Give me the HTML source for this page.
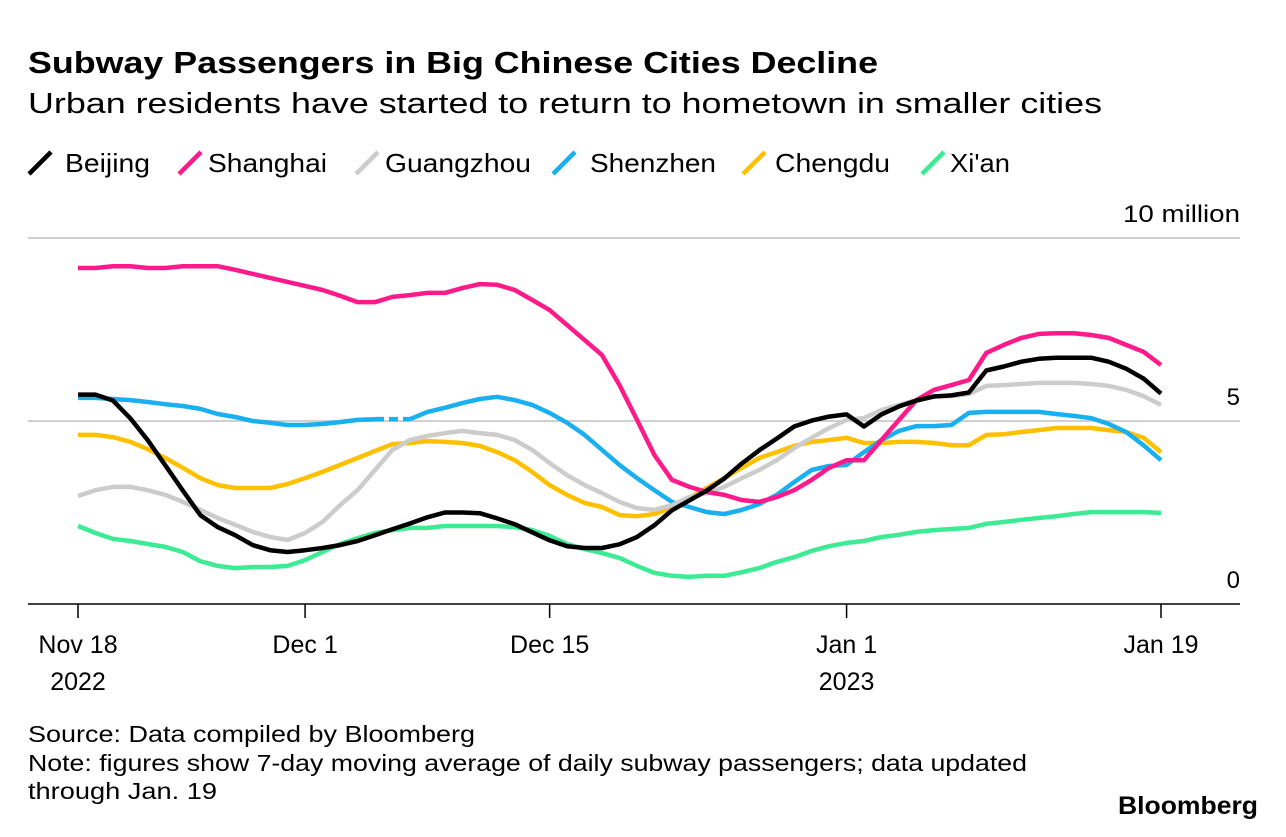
<!DOCTYPE html>
<html><head><meta charset="utf-8"><style>
body{margin:0;background:#fff;font-family:"Liberation Sans",Arial,sans-serif;}
svg text{font-family:"Liberation Sans",Arial,sans-serif;}
</style></head><body>
<svg width="1286" height="832" xmlns="http://www.w3.org/2000/svg">
<text x="28" y="73" font-size="31" font-weight="bold" fill="#000" textLength="850" lengthAdjust="spacingAndGlyphs">Subway Passengers in Big Chinese Cities Decline</text>
<text x="28" y="113" font-size="29" fill="#000" textLength="1074" lengthAdjust="spacingAndGlyphs">Urban residents have started to return to hometown in smaller cities</text>
<g id="legend"></g>
<g id="grid"></g>
<g id="xaxis"></g>
<g id="series"></g>
<text x="28" y="742" font-size="23" fill="#000" textLength="447" lengthAdjust="spacingAndGlyphs">Source: Data compiled by Bloomberg</text>
<text x="28" y="771" font-size="23" fill="#000" textLength="999" lengthAdjust="spacingAndGlyphs">Note: figures show 7-day moving average of daily subway passengers; data updated</text>
<text x="28" y="799" font-size="23" fill="#000" textLength="189" lengthAdjust="spacingAndGlyphs">through Jan. 19</text>
<text x="1258" y="814" font-size="25" font-weight="bold" text-anchor="end" fill="#000" textLength="140" lengthAdjust="spacingAndGlyphs">Bloomberg</text>
</svg>
<script>
const seriesNames=["Beijing","Shanghai","Guangzhou","Shenzhen","Chengdu","Xi'an"];
const seriesColors=["#000000","#ff1a8c","#cccccc","#1ab0f0","#ffc000","#3deb94"];
const yTicks=[0,5,10];
const yTickLabels=["0","5","10 million"];
const xTickDays=[0,13,27,44,62];
const xTickLabels=[["Nov 18","2022"],["Dec 1",""],["Dec 15",""],["Jan 1","2023"],["Jan 19",""]];
const beijing=[5.72,5.72,5.56,5.07,4.47,3.79,3.10,2.43,2.10,1.88,1.61,1.47,1.42,1.47,1.53,1.61,1.72,1.88,2.04,2.20,2.37,2.50,2.50,2.48,2.34,2.18,1.96,1.74,1.58,1.53,1.53,1.63,1.83,2.15,2.56,2.83,3.10,3.43,3.84,4.20,4.52,4.85,5.01,5.12,5.18,4.85,5.18,5.40,5.56,5.67,5.70,5.78,6.38,6.49,6.62,6.70,6.73,6.73,6.73,6.62,6.43,6.16,5.75];
const shanghai=[9.18,9.18,9.23,9.23,9.18,9.18,9.23,9.23,9.23,9.13,9.02,8.91,8.80,8.69,8.58,8.42,8.25,8.25,8.39,8.44,8.50,8.50,8.63,8.74,8.72,8.58,8.31,8.03,7.62,7.21,6.80,5.98,5.03,4.07,3.39,3.20,3.06,2.98,2.84,2.79,2.92,3.11,3.39,3.72,3.93,3.93,4.48,5.03,5.57,5.85,5.98,6.12,6.86,7.08,7.27,7.38,7.40,7.40,7.35,7.27,7.08,6.89,6.53];
const guangzhou=[2.95,3.11,3.20,3.20,3.11,2.98,2.79,2.57,2.35,2.16,1.97,1.83,1.75,1.94,2.24,2.70,3.11,3.66,4.21,4.48,4.59,4.67,4.73,4.67,4.62,4.48,4.21,3.85,3.52,3.25,3.03,2.79,2.62,2.57,2.70,2.92,3.03,3.20,3.44,3.66,3.93,4.26,4.54,4.81,5.03,5.08,5.30,5.44,5.57,5.68,5.68,5.74,5.96,5.98,6.01,6.04,6.04,6.04,6.01,5.96,5.85,5.68,5.44];
const shenzhen=[5.63,5.63,5.60,5.57,5.52,5.46,5.41,5.33,5.19,5.11,5.00,4.95,4.89,4.89,4.92,4.97,5.03,5.05,5.05,5.05,5.25,5.36,5.49,5.60,5.66,5.57,5.44,5.22,4.95,4.62,4.21,3.80,3.44,3.11,2.79,2.65,2.51,2.46,2.57,2.73,2.98,3.33,3.66,3.77,3.80,4.15,4.48,4.73,4.86,4.86,4.89,5.22,5.25,5.25,5.25,5.25,5.19,5.14,5.08,4.92,4.70,4.34,3.93];
const chengdu=[4.62,4.62,4.56,4.43,4.23,3.99,3.72,3.44,3.25,3.17,3.17,3.17,3.28,3.44,3.61,3.80,3.99,4.18,4.37,4.40,4.45,4.43,4.40,4.32,4.15,3.93,3.61,3.25,2.98,2.76,2.65,2.43,2.40,2.46,2.62,2.90,3.17,3.44,3.72,3.99,4.15,4.32,4.43,4.48,4.54,4.40,4.40,4.43,4.43,4.40,4.34,4.34,4.62,4.64,4.70,4.75,4.81,4.81,4.81,4.75,4.70,4.54,4.15];
const xian=[2.13,1.94,1.78,1.72,1.64,1.56,1.42,1.17,1.04,0.98,1.01,1.01,1.04,1.20,1.42,1.64,1.80,1.94,2.02,2.08,2.08,2.13,2.13,2.13,2.13,2.10,2.02,1.86,1.64,1.50,1.39,1.26,1.04,0.85,0.77,0.74,0.77,0.77,0.87,0.98,1.15,1.28,1.45,1.58,1.67,1.72,1.83,1.89,1.97,2.02,2.05,2.08,2.19,2.24,2.30,2.35,2.40,2.46,2.51,2.51,2.51,2.51,2.49];
const allSeries=[beijing,shanghai,guangzhou,shenzhen,chengdu,xian];
const dashStart=17, dashEnd=19;

const NS="http://www.w3.org/2000/svg";
const X0=78, X1=1161, D1=62, Y0=604, YT=238, VMAX=10;
function xs(d){return X0+(X1-X0)*d/D1;}
function ys(v){return Y0-(Y0-YT)*v/VMAX;}
function mk(tag,attrs,parent){const e=document.createElementNS(NS,tag);for(const k in attrs)e.setAttribute(k,attrs[k]);parent.appendChild(e);return e;}

const grid=document.getElementById('grid');
yTicks.forEach((t,i)=>{
  const y=ys(t);
  const l=mk('line',{x1:28,x2:1240,y1:y,y2:y,stroke:t===0?'#000':'#d0d0d0','stroke-width':t===0?1.5:2},grid);
  
  
  const attrs={x:1240,y:y-16,'font-size':24,'text-anchor':'end',fill:'#000'};
  if(t===10){attrs.textLength=117;attrs.lengthAdjust='spacingAndGlyphs';}
  const tx=mk('text',attrs,grid);
  tx.textContent=yTickLabels[i];
  
  
});
const xa=document.getElementById('xaxis');
xTickDays.forEach((d,i)=>{
  const x=xs(d);
  const l=mk('line',{x1:x,x2:x,y1:Y0,y2:Y0+14,stroke:'#000','stroke-width':1.5},xa);
  
  
  xTickLabels[i].forEach((s,j)=>{
    if(!s)return;
    const t=mk('text',{x:x,y:653+j*37,'font-size':25,'text-anchor':'middle',fill:'#000'},xa);
    t.textContent=s;
    
    
  });
});
const sg=document.getElementById('series');
for(let s=allSeries.length-1;s>=0;s--){
  const data=allSeries[s];
  const segs = s===3 ? [[0,dashStart],[dashEnd,data.length-1]] : [[0,data.length-1]];
  segs.forEach(([a,b])=>{
    const pts=[];for(let i=a;i<=b;i++)pts.push(xs(i).toFixed(1)+','+ys(data[i]).toFixed(1));
    const p=mk('polyline',{points:pts.join(' '),fill:'none',stroke:seriesColors[s],'stroke-width':4.5,'stroke-linejoin':'round','stroke-linecap':'butt'},sg);
    
    
  });
  if(s===3){
    const p=mk('line',{x1:xs(dashStart),y1:ys(data[dashStart]),x2:xs(dashEnd),y2:ys(data[dashEnd]),stroke:seriesColors[s],'stroke-width':4.5,'stroke-dasharray':'9,5'},sg);
    
    
  }
}
const lg=document.getElementById('legend');
const legX=[29,179,356,553,743,922];
const legTextX=[65,208,385,590,775,950];
const legTextW=[85,119,146,126,115,60];
seriesNames.forEach((n,i)=>{
  const g=mk('g',{},lg);
  
  
  mk('line',{x1:legX[i],y1:174,x2:legX[i]+22,y2:152,stroke:seriesColors[i],'stroke-width':4.5},g);
  const t=mk('text',{x:legTextX[i],y:172,'font-size':26,fill:'#000',textLength:legTextW[i],lengthAdjust:'spacingAndGlyphs'},g);
  t.textContent=n;
});
</script>
</body></html>
